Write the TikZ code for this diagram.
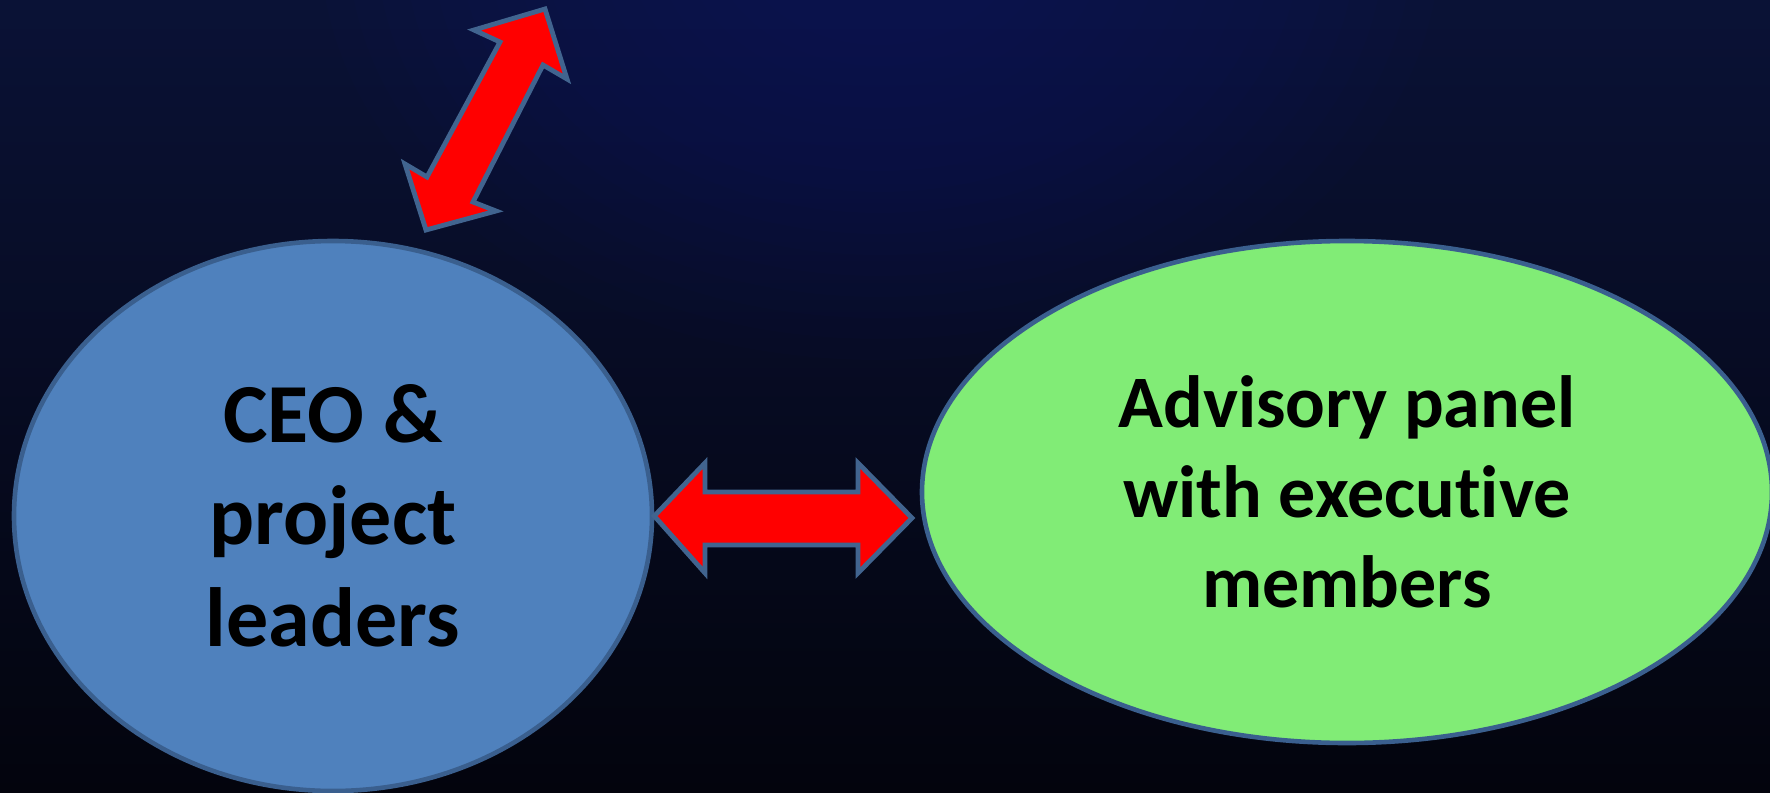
\documentclass[tikz,border=0pt]{standalone}
\usepackage{fontspec}
\setmainfont{Carlito}[Ligatures=NoCommon]
\usetikzlibrary{shapes.geometric}
\definecolor{bgtop}{HTML}{0A1236}
\definecolor{bgbot}{HTML}{03040D}
\definecolor{glow}{HTML}{1A2878}
\definecolor{ceofill}{HTML}{4F81BD}
\definecolor{ceoline}{HTML}{3A5F8E}
\definecolor{advfill}{HTML}{81EC76}
\definecolor{arrline}{HTML}{41648F}
\tikzset{
  bubble/.style={ellipse, inner sep=0pt, line width=2.3pt, draw=ceoline, align=center, font=\bfseries},
  bigarrow/.style={fill=red, draw=arrline, line width=2.4pt, line join=miter},
}
\begin{document}
\begin{tikzpicture}[x=0.5pt,y=-0.5pt]
\useasboundingbox (0,0) rectangle (1770,792);
\begin{scope}
\clip (0,0) rectangle (1770,792);
\shade[top color=bgtop, bottom color=bgbot] (0,0) rectangle (1770,792);
\foreach \s in {1.0,0.95,...,0.2}{
  \fill[glow, opacity=0.035] (880,-60) ellipse ({560*\s} and {420*\s});
}
% CEO ellipse
\node[bubble, fill=ceofill, minimum width=319pt, minimum height=275pt,
      font=\bfseries\fontsize{42}{51}\selectfont] (ceo) at (333,516)
  {CEO \&\\project\\leaders};
% Advisory ellipse
\node[bubble, fill=advfill, minimum width=425pt, minimum height=251pt,
      font=\bfseries\fontsize{37}{45}\selectfont] (adv) at (1347,492)
  {Advisory panel\\with executive\\members};
% horizontal double arrow between the two nodes
\coordinate (hl) at (ceo.east);
\coordinate (hr) at (912,518);
\draw[bigarrow] (hl) -- (705,463) -- (705,492) -- (858,492) -- (858,463)
  -- (hr) -- (858,573) -- (858,545) -- (705,545) -- (705,573) -- cycle;
% diagonal double arrow above the CEO node
\coordinate (dtop) at (545,9);
\coordinate (dbot) at (426,230);
\draw[bigarrow] (dtop) -- (567,79) -- (543,65) -- (473,202) -- (496,211)
  -- (dbot) -- (405,164) -- (427,177) -- (500,42) -- (474,30) -- cycle;
\end{scope}
\end{tikzpicture}
\end{document}
